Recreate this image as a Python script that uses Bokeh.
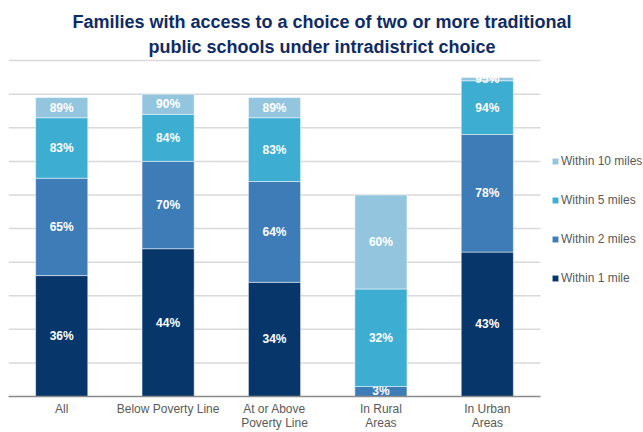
from bokeh.plotting import figure
from bokeh.models import (ColumnDataSource, Range1d, Legend, LegendItem, Label,
                          FixedTicker)
from bokeh.core.properties import value
from bokeh.embed import file_html
from bokeh.resources import INLINE

# Groups of families
categories = ["All", "Below Poverty Line", "At or Above\nPoverty Line",
              "In Rural\nAreas", "In Urban\nAreas"]

# Cumulative share (%) with access to a choice of two or more schools
within_1_mile = [36, 44, 34, 0, 43]
within_2_miles = [65, 70, 64, 3, 78]
within_5_miles = [83, 84, 83, 32, 94]
within_10_miles = [89, 90, 89, 60, 95]

series_names = ["Within 1 mile", "Within 2 miles", "Within 5 miles", "Within 10 miles"]
series_values = [within_1_mile, within_2_miles, within_5_miles, within_10_miles]
series_colors = ["#07376a", "#3e7cb8", "#3dadd2", "#94c5df"]

grid_levels = [10, 20, 30, 40, 50, 60, 70, 80, 90, 100]

FONT = "Liberation Sans"

# one unit of x per group; the space right of the last group holds the legend
n = len(categories)
slots = [i + 0.5 for i in range(n)]
X_END = n + 0.968
Y_END = 117.9

p = figure(width=643, height=432, x_range=Range1d(0, X_END), y_range=Range1d(0, Y_END),
           output_backend="svg", toolbar_location=None,
           min_border_left=8, min_border_right=0, min_border_top=0, min_border_bottom=0)
p.outline_line_color = None
p.background_fill_color = "white"
p.border_fill_color = "white"
p.xgrid.visible = False
p.ygrid.visible = False
p.yaxis.visible = False

# horizontal guide lines across the bar area only
p.segment(x0=0, x1=n, y0=grid_levels, y1=grid_levels, line_color="#d9d9d9",
          line_width=1.5, level="underlay")

# stacked segments, each from the previous cumulative value up to its own
renderers = []
prev = [0] * n
for name, vals, color in zip(series_names, series_values, series_colors):
    mids = [(a + b) / 2 for a, b in zip(prev, vals)]
    labels = [f"{v}%" if v > a else "" for a, v in zip(prev, vals)]
    src = ColumnDataSource(dict(x=slots, bottom=prev, top=vals, mid=mids, label=labels))
    r = p.vbar(x="x", bottom="bottom", top="top", width=0.49, source=src,
               fill_color=color, line_color="white", line_width=0.8, line_alpha=0.6)
    p.text(x="x", y="mid", text="label", source=src, text_color="white",
           text_font=value(FONT), text_font_style="bold", text_font_size="12px",
           text_align="center", text_baseline="middle")
    renderers.append((name, r))
    prev = vals

# category axis
xa = p.xaxis[0]
xa.ticker = FixedTicker(ticks=slots)
xa.major_label_overrides = {s: c for s, c in zip(slots, categories)}
xa.bounds = (0, n)
xa.axis_line_color = "#8a8a8a"
xa.axis_line_width = 1.5
xa.major_tick_line_color = None
xa.major_tick_out = 0
xa.major_tick_in = 0
xa.minor_tick_line_color = None
xa.minor_tick_out = 0
xa.major_label_standoff = 5
xa.major_label_text_font = FONT
xa.major_label_text_font_size = "12px"
xa.major_label_text_color = "#595959"
xa.major_label_text_line_height = 1.0

# legend to the right of the bars, widest distance first
items = [LegendItem(label=name, renderers=[r]) for name, r in reversed(renderers)]
legend = Legend(items=items, location=(543, 109), orientation="vertical",
                glyph_width=8, glyph_height=8, label_standoff=2, label_height=18,
                spacing=21, padding=0, margin=0, border_line_color=None,
                background_fill_alpha=0, label_text_font=FONT,
                label_text_font_size="12px", label_text_color="#595959")
p.add_layout(legend)

# two-line heading centred on the page
title = Label(x=2.946, y=107.8,
              text="Families with access to a choice of two or more traditional\n"
                   "public schools under intradistrict choice",
              text_font=FONT, text_font_style="bold", text_font_size="18px",
              text_color="#0f2b66", text_align="center", text_baseline="middle",
              text_line_height=1.22)
p.add_layout(title)

open("out.html", "w").write(file_html(p, INLINE))
